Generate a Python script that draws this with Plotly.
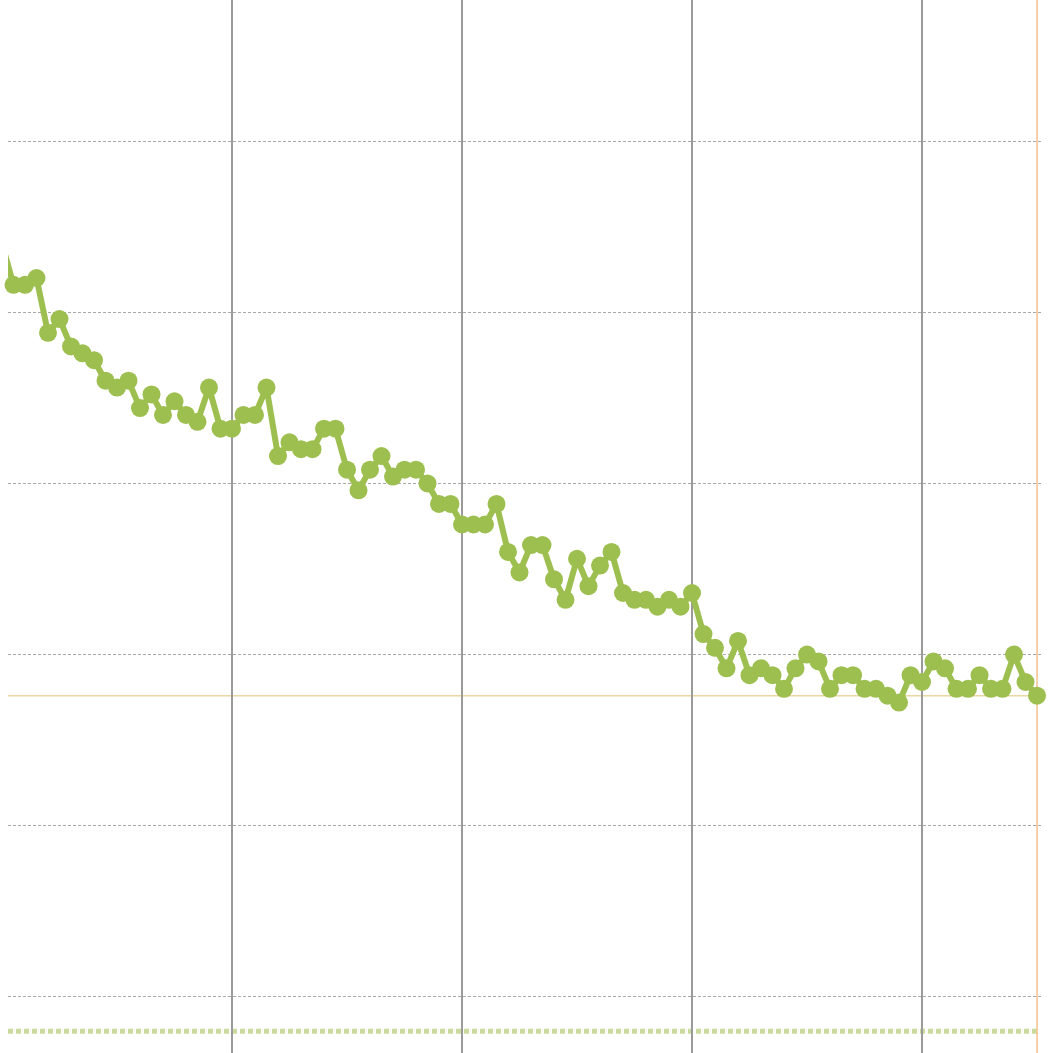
import plotly.graph_objects as go

# index positions (one per period); index -1 is the point just left of the visible window
x_idx = list(range(-1, 90))
values = [
    32.0,
    30.8, 30.8, 31.0, 29.4, 29.8, 29.0, 28.8, 28.6, 28.0, 27.8,
    28.0, 27.2, 27.6, 27.0, 27.4, 27.0, 26.8, 27.8, 26.6, 26.6,
    27.0, 27.0, 27.8, 25.8, 26.2, 26.0, 26.0, 26.6, 26.6, 25.4,
    24.8, 25.4, 25.8, 25.2, 25.4, 25.4, 25.0, 24.4, 24.4, 23.8,
    23.8, 23.8, 24.4, 23.0, 22.4, 23.2, 23.2, 22.2, 21.6, 22.8,
    22.0, 22.6, 23.0, 21.8, 21.6, 21.6, 21.4, 21.6, 21.4, 21.8,
    20.6, 20.2, 19.6, 20.4, 19.4, 19.6, 19.4, 19.0, 19.6, 20.0,
    19.8, 19.0, 19.4, 19.4, 19.0, 19.0, 18.8, 18.6, 19.4, 19.2,
    19.8, 19.6, 19.0, 19.0, 19.4, 19.0, 19.0, 20.0, 19.2, 18.8,
]
vgrid_idx = [19, 39, 59, 79]
baseline_value = 9.0
x_range = [-0.478, 89.52]
y_range = [8.364, 39.12]

last_x = x_idx[-1]
last_y = values[-1]

green = "#9dbf4f"
orange = "#f4c18d"

fig = go.Figure()
fig.add_trace(go.Scatter(
    x=x_idx, y=values, mode="lines+markers",
    line=dict(color=green, width=6),
    marker=dict(color=green, size=18),
    cliponaxis=False, showlegend=False, hoverinfo="skip",
))

fig.add_shape(type="line", xref="paper", yref="y", x0=0, x1=0.995, y0=baseline_value, y1=baseline_value,
              line=dict(color="#c9dc9e", width=5, dash="5px,3px"), layer="below")
fig.add_shape(type="line", xref="paper", yref="y", x0=0, x1=1, y0=last_y, y1=last_y,
              line=dict(color="#ecd6a2", width=1.5), layer="below")
fig.add_shape(type="line", xref="x", yref="paper", x0=last_x, x1=last_x, y0=0, y1=1,
              line=dict(color=orange, width=1.5), layer="below")

fig.update_layout(
    width=1053, height=1053,
    margin=dict(l=8, r=10, t=0, b=0),
    paper_bgcolor="white", plot_bgcolor="white",
    xaxis=dict(range=x_range, tickvals=vgrid_idx, showticklabels=False, showgrid=True,
               gridcolor="#9a9a9a", gridwidth=1.5, zeroline=False, showline=False, ticks=""),
    yaxis=dict(range=y_range, tick0=10, dtick=5, showticklabels=False, showgrid=True,
               gridcolor="#a8a8a8", gridwidth=1, griddash="3px,2px", zeroline=False,
               showline=False, ticks=""),
)

fig.write_html("out.html", config={"displayModeBar": False},
               post_script="document.body.style.margin='0';")
